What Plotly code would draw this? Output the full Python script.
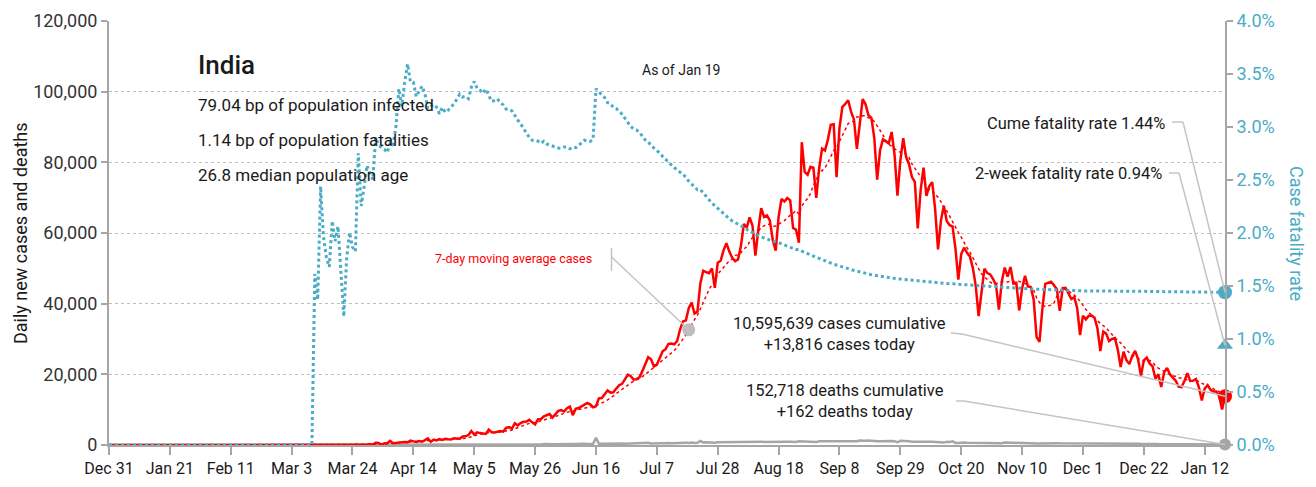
import pandas as pd
import plotly.graph_objects as go

# ---------------------------------------------------------------- data
# Daily new confirmed cases, India, by month (first entry is 2019-12-31)
cases_2019_dec = [0]
cases_2020_jan = [0, 0, 0, 0, 0, 0, 0, 0, 0, 0,
                  0, 0, 0, 0, 0, 0, 0, 0, 0, 0,
                  0, 0, 0, 0, 0, 0, 0, 0, 0, 1, 0]
cases_2020_feb = [0, 1, 1, 0, 0, 0, 0, 0, 0, 0,
                  0, 0, 0, 0, 0, 0, 0, 0, 0, 0,
                  0, 0, 0, 0, 0, 0, 0, 0, 0]
cases_2020_mar = [0, 2, 0, 23, 2, 1, 3, 5, 4, 13, 6, 11, 9, 20, 11, 6,
                  23, 14, 38, 50, 86, 66, 103, 37, 121, 70, 160, 100, 37, 227, 146]
cases_2020_apr = [601, 545, 24, 515, 506, 1190, 533, 605, 809, 873, 848, 759,
                  1248, 1034, 835, 1108, 922, 1370, 1893, 924, 1541, 1290, 1707,
                  1453, 1753, 1607, 1561, 1873, 1738, 1801]
cases_2020_may = [2394, 2442, 2806, 3932, 2963, 3587, 3364, 3344, 3113, 4353,
                  3607, 3524, 3763, 3942, 3787, 4864, 5050, 4630, 6147, 5553,
                  6198, 6568, 6629, 7113, 6414, 5843, 7293, 7300, 8105, 8336, 8782]
cases_2020_jun = [7761, 8821, 9633, 9889, 9471, 10438, 10864, 8442, 10218, 10459,
                  10930, 11458, 11929, 11502, 10667, 10974, 13199, 13268, 14516,
                  15403, 14831, 14933, 15968, 16922, 17296, 18552, 19906, 19459,
                  18522, 18641]
cases_2020_jul = [19160, 20903, 22771, 24850, 24248, 22252, 22752, 24879, 26506,
                  27114, 28637, 28701, 28498, 29429, 32676, 34975, 35252, 38697,
                  40326, 37231, 37740, 45720, 49310, 48916, 48611, 49981, 44457,
                  51596, 52123, 55078, 57118]
cases_2020_aug = [54735, 52972, 52050, 52509, 56282, 62538, 61537, 64399, 62064,
                  53601, 60963, 66999, 64553, 65002, 63490, 57981, 55018, 64572,
                  69672, 68900, 69876, 69239, 61408, 60975, 57224, 85687, 77266,
                  76472, 78761, 78512, 69921]
cases_2020_sep = [78357, 83883, 83341, 86432, 90632, 90802, 75809, 89706, 95735,
                  96551, 97570, 94372, 92071, 83809, 90123, 97894, 96424, 93337,
                  92605, 86961, 75083, 83347, 86508, 86052, 85362, 88600, 82170,
                  70589, 80472, 86821]
cases_2020_oct = [81484, 79476, 75829, 74442, 61267, 72049, 78524, 70496, 73272,
                  74383, 66732, 55342, 63509, 67708, 63371, 62212, 61871, 55722,
                  46790, 54044, 55839, 54366, 53370, 50129, 45148, 36470, 43893,
                  49881, 48648, 48268, 46963]
cases_2020_nov = [45231, 38310, 46253, 50210, 47638, 50356, 45674, 45903, 38073,
                  44281, 47905, 44879, 44684, 41100, 30548, 29163, 38617, 45576,
                  45882, 46232, 45209, 44059, 37975, 44376, 44489, 43082, 41322,
                  41810, 38772, 31118]
cases_2020_dec = [36604, 35551, 36595, 36652, 36011, 32981, 26567, 32080, 31521,
                  29398, 30006, 30254, 27071, 22065, 26382, 24010, 22890, 25152,
                  26624, 24337, 19556, 23950, 24712, 23067, 22273, 18732, 20021,
                  16432, 20549, 21822, 20035]
cases_2021_jan = [19079, 18177, 16504, 16375, 18088, 20346, 18139, 18222, 18645,
                  16311, 12584, 15968, 16946, 15590, 15158, 15144, 13788, 10050,
                  13816]

# Daily new deaths, India, by month
deaths_2019_dec = [0]
deaths_2020_jan = [0, 0, 0, 0, 0, 0, 0, 0, 0, 0,
                   0, 0, 0, 0, 0, 0, 0, 0, 0, 0,
                   0, 0, 0, 0, 0, 0, 0, 0, 0, 0, 0]
deaths_2020_feb = [0, 0, 0, 0, 0, 0, 0, 0, 0, 0,
                   0, 0, 0, 0, 0, 0, 0, 0, 0, 0,
                   0, 0, 0, 0, 0, 0, 0, 0, 0]
deaths_2020_mar = [0, 0, 0, 0, 0, 0, 0, 0, 0, 0, 1, 0, 1, 0, 0, 0,
                   1, 0, 1, 0, 0, 3, 3, 0, 2, 8, 0, 4, 3, 5, 3]
deaths_2020_apr = [23, 14, 0, 14, 13, 37, 14, 28, 48, 17, 46, 42, 27, 35, 12,
                   43, 38, 35, 38, 33, 53, 36, 40, 60, 44, 56, 58, 69, 71, 75]
deaths_2020_may = [69, 83, 83, 179, 126, 89, 103, 95, 128, 103, 82, 121, 134, 100,
                   103, 120, 157, 134, 140, 132, 148, 137, 147, 154, 146, 170, 194,
                   175, 265, 193, 230]
deaths_2020_jun = [204, 217, 260, 273, 294, 287, 266, 274, 276, 357, 396, 386, 311,
                   325, 380, 2003, 334, 336, 375, 306, 445, 312, 465, 418, 407, 384,
                   410, 380, 418, 507]
deaths_2020_jul = [434, 379, 442, 613, 425, 467, 482, 487, 475, 519, 551, 500, 553,
                   582, 606, 687, 671, 543, 681, 587, 648, 1129, 740, 757, 705, 708,
                   654, 768, 775, 779, 764]
deaths_2020_aug = [853, 771, 803, 857, 904, 886, 933, 861, 1007, 871, 834, 942, 1007,
                   996, 944, 941, 876, 1092, 977, 983, 945, 912, 836, 848, 1059, 1023,
                   1057, 1021, 948, 971, 819]
deaths_2020_sep = [1045, 1043, 1096, 1089, 1065, 1016, 1133, 1115, 1172, 1209, 1201,
                   1114, 1136, 1054, 1290, 1132, 1174, 1247, 1133, 1130, 1053, 1085,
                   1129, 1141, 1089, 1124, 1039, 776, 1179, 1181]
deaths_2020_oct = [1095, 1069, 940, 903, 884, 986, 971, 964, 926, 918, 816, 706, 730,
                   680, 895, 837, 1033, 579, 587, 717, 702, 650, 650, 578, 480, 488,
                   508, 517, 563, 551, 470]
deaths_2020_nov = [496, 490, 514, 704, 670, 577, 559, 490, 448, 512, 550, 547, 520,
                   447, 435, 449, 474, 585, 584, 564, 501, 511, 480, 481, 524, 492,
                   485, 496, 443, 482]
deaths_2020_dec = [501, 526, 540, 512, 482, 391, 385, 402, 412, 414, 442, 391, 336,
                   354, 387, 355, 338, 347, 341, 333, 301, 333, 312, 251, 264, 279,
                   251, 252, 286, 299, 264]
deaths_2021_jan = [224, 214, 214, 201, 264, 222, 234, 228, 228, 161, 167, 201, 202,
                   191, 151, 181, 145, 137, 162]

# Headline figures
country = "India"
as_of = "Jan 19"
total_cases = 10595639
total_deaths = 152718
cases_today = 13816
deaths_today = 162
two_week_cfr = 0.0094
stat_lines = ["79.04 bp of population infected",
              "1.14 bp of population fatalities",
              "26.8 median population age"]
ma_callout_date = "2020-07-18"

# x-axis ticks every three weeks
tick_labels = ["Dec 31", "Jan 21", "Feb 11", "Mar 3", "Mar 24", "Apr 14", "May 5",
               "May 26", "Jun 16", "Jul 7", "Jul 28", "Aug 18", "Sep 8", "Sep 29",
               "Oct 20", "Nov 10", "Dec 1", "Dec 22", "Jan 12"]

# ---------------------------------------------------------------- series
cases = (cases_2019_dec + cases_2020_jan + cases_2020_feb + cases_2020_mar
         + cases_2020_apr + cases_2020_may + cases_2020_jun + cases_2020_jul
         + cases_2020_aug + cases_2020_sep + cases_2020_oct + cases_2020_nov
         + cases_2020_dec + cases_2021_jan)
deaths = (deaths_2019_dec + deaths_2020_jan + deaths_2020_feb + deaths_2020_mar
          + deaths_2020_apr + deaths_2020_may + deaths_2020_jun + deaths_2020_jul
          + deaths_2020_aug + deaths_2020_sep + deaths_2020_oct + deaths_2020_nov
          + deaths_2020_dec + deaths_2021_jan)

dates = pd.date_range("2019-12-31", periods=len(cases), freq="D")
s_cases = pd.Series(cases, index=dates, dtype=float)
s_deaths = pd.Series(deaths, index=dates, dtype=float)
ma7 = s_cases.rolling(7, min_periods=1).mean()
cfr = (s_deaths.cumsum() / s_cases.cumsum()).fillna(0.0)
cume_cfr = total_deaths / total_cases
tick_vals = pd.date_range("2019-12-31", periods=len(tick_labels), freq="21D")

# ---------------------------------------------------------------- styling
FONT = "Roboto, Liberation Sans, sans-serif"
RED = "#FF0000"
BLUE = "#4BACC6"
GREY = "#A6A6A6"
LEADER = "#C4C4C4"
TEXT = "#1a1a1a"
Y_MAX = 120000
Y2_MAX = 0.04

W, H = 1316, 487
M = dict(l=109, r=91, t=21, b=42)
PW = W - M["l"] - M["r"]
PH = H - M["t"] - M["b"]


def fx(px):
    return (px - M["l"]) / PW


def fy(py):
    return (H - M["b"] - py) / PH


def dxp(d):
    d = pd.Timestamp(d)
    return (d - dates[0]) / (dates[-1] - dates[0])


def dyp(v):
    return v / Y_MAX


def dy2p(r):
    return r / Y2_MAX


fig = go.Figure()

fig.add_trace(go.Scatter(x=dates, y=s_deaths, mode="lines",
                         line=dict(color=GREY, width=2.5), name="Daily deaths"))
fig.add_trace(go.Scatter(x=dates, y=s_cases, mode="lines",
                         line=dict(color=RED, width=2.5), name="Daily cases"))
fig.add_trace(go.Scatter(x=dates, y=ma7, mode="lines",
                         line=dict(color=RED, width=1.5, dash="dot"),
                         name="7-day moving average cases"))
fig.add_trace(go.Scatter(x=dates, y=cfr, mode="lines", yaxis="y2",
                         line=dict(color=BLUE, width=3, dash="dot"),
                         name="Case fatality rate"))

# callout dot on the moving average
ma_pt = pd.Timestamp(ma_callout_date)
fig.add_trace(go.Scatter(x=[ma_pt], y=[ma7[ma_pt]], mode="markers",
                         marker=dict(color="#BDBDBD", size=13), cliponaxis=False))
# end-of-series markers
last = dates[-1]
fig.add_trace(go.Scatter(x=[last], y=[deaths_today], mode="markers",
                         marker=dict(color=GREY, size=12), cliponaxis=False))
fig.add_trace(go.Scatter(x=[last], y=[cases_today], mode="markers",
                         marker=dict(color=RED, size=14), cliponaxis=False))
fig.add_trace(go.Scatter(x=[last], y=[cume_cfr], mode="markers", yaxis="y2",
                         marker=dict(color=BLUE, size=14), cliponaxis=False))
fig.add_trace(go.Scatter(x=[last], y=[two_week_cfr], mode="markers", yaxis="y2",
                         marker=dict(color=BLUE, size=14, symbol="triangle-up"),
                         cliponaxis=False))

# ---------------------------------------------------------------- text
ann = []


def note(x, y, text, size, color=TEXT, xanchor="left", yanchor="middle",
         align="left", angle=0, weight="normal"):
    ann.append(dict(x=x, y=y, xref="paper", yref="paper", text=text,
                    showarrow=False, xanchor=xanchor, yanchor=yanchor, align=align,
                    textangle=angle,
                    font=dict(family=FONT, size=size, color=color, weight=weight)))


note(fx(196), fy(65), country, 26, weight=500)
for i, line in enumerate(stat_lines):
    note(fx(196), fy(105 + 35 * i), line, 17)
note(fx(681), fy(70), f"As of {as_of}", 14, xanchor="center")
note(fx(594), fy(258), "7-day moving average cases", 12.5, color=RED, xanchor="right")
note(fx(1167), fy(123), f"Cume fatality rate {cume_cfr * 100:.2f}%", 16.5,
     xanchor="right")
note(fx(1164), fy(173), f"2-week fatality rate {two_week_cfr * 100:.2f}%", 16.5,
     xanchor="right")
note(fx(839), fy(334), f"{total_cases:,} cases cumulative<br>+{cases_today:,} cases today",
     16.5, xanchor="center", align="center")
note(fx(845), fy(401), f"{total_deaths:,} deaths cumulative<br>+{deaths_today:,} deaths today",
     16.5, xanchor="center", align="center")
note(fx(20), 0.5, "Daily new cases and deaths", 18, xanchor="center", angle=-90)
note(fx(1297), 0.5, "Case fatality rate", 18, color=BLUE, xanchor="center", angle=90)

# ---------------------------------------------------------------- leader lines
shapes = []


def seg(x0, y0, x1, y1):
    shapes.append(dict(type="line", xref="paper", yref="paper", x0=x0, y0=y0,
                       x1=x1, y1=y1, line=dict(color=LEADER, width=1.5)))


seg(fx(611.5), fy(248), fx(611.5), fy(271))
seg(fx(611.5), fy(257), dxp(ma_pt), dyp(ma7[ma_pt]))
seg(fx(1172), fy(122), fx(1183), fy(122))
seg(fx(1183), fy(122), dxp(last), dy2p(cume_cfr))
seg(fx(1169), fy(173), fx(1179), fy(173))
seg(fx(1179), fy(173), dxp(last), dy2p(two_week_cfr))
seg(fx(951), fy(333), fx(962), fy(334))
seg(fx(962), fy(334), dxp(last), dyp(cases_today))
seg(fx(956), fy(401), fx(964), fy(401))
seg(fx(964), fy(401), dxp(last), dyp(deaths_today))

fig.update_layout(
    width=W, height=H, margin=M,
    paper_bgcolor="white", plot_bgcolor="white",
    showlegend=False,
    font=dict(family=FONT, color=TEXT),
    annotations=ann, shapes=shapes,
    xaxis=dict(range=[dates[0], dates[-1]], tickvals=tick_vals, ticktext=tick_labels,
               automargin=False,
               showgrid=False, zeroline=False, showline=True, linecolor=GREY,
               linewidth=2, ticks="outside", ticklen=8, tickwidth=1.5,
               tickcolor=GREY, tickfont=dict(family=FONT, size=16, color=TEXT)),
    yaxis=dict(range=[0, Y_MAX], dtick=20000, tickformat=",", showgrid=True,
               automargin=False,
               gridcolor="#BFBFBF", griddash="dot", gridwidth=1, zeroline=False,
               showline=True, linecolor=GREY, linewidth=2, ticks="outside",
               ticklen=6, tickwidth=1.5, tickcolor=GREY,
               tickfont=dict(family=FONT, size=18, color="#333333")),
    yaxis2=dict(range=[0, Y2_MAX], dtick=0.005, tickformat=".1%", overlaying="y",
                automargin=False,
                side="right", showgrid=False, zeroline=False, showline=True,
                linecolor=GREY, linewidth=2, ticks="outside", ticklen=6,
                tickwidth=1.5, tickcolor=GREY,
                tickfont=dict(family=FONT, size=18, color=BLUE)),
)

fig.write_html("out.html")
